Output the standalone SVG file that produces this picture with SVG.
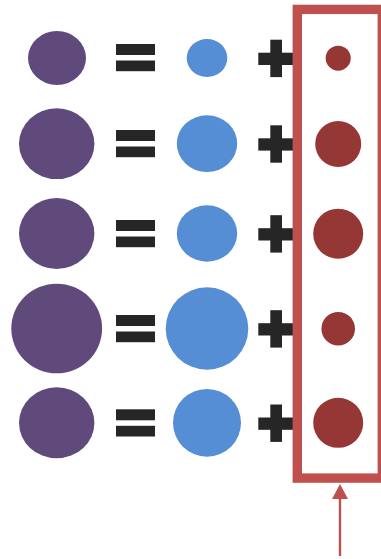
<svg xmlns="http://www.w3.org/2000/svg" width="381" height="559" viewBox="0 0 381 559">
<style>
.p{fill:#604A7B}
.b{fill:#558ED5}
.r{fill:#953735}
.k{fill:#262626}
</style>
<defs>
<g id="eq"><rect x="116" y="-14.5" width="39" height="11"/><rect x="116" y="2" width="39" height="10.7"/></g>
<g id="plus"><rect x="270.3" y="-18.5" width="11.7" height="37.4"/><rect x="258.3" y="-5.5" width="35.7" height="12.3"/></g>
<marker id="ah" markerWidth="15" markerHeight="16" refX="9" refY="8" orient="auto" markerUnits="userSpaceOnUse" viewBox="0 0 15 16"><path d="M0,0 L15,8 L0,16 Z" fill="#C0504D"/></marker>
</defs>
<rect width="381" height="559" fill="#fff"/>
<g id="row1">
<ellipse class="p" cx="57" cy="58" rx="29" ry="27"/>
<use href="#eq" class="k" y="58.5"/>
<ellipse class="b" cx="207" cy="58" rx="20.3" ry="19"/>
<use href="#plus" class="k" y="58.2"/>
<circle class="r" cx="338.2" cy="58.2" r="12.5"/>
</g>
<g id="row2">
<ellipse class="p" cx="56.7" cy="143.7" rx="37.7" ry="35.4"/>
<use href="#eq" class="k" y="144.5"/>
<ellipse class="b" cx="207" cy="143.7" rx="30.2" ry="28.4"/>
<use href="#plus" class="k" y="143.8"/>
<circle class="r" cx="338.2" cy="143.9" r="23"/>
</g>
<g id="row3">
<ellipse class="p" cx="56.7" cy="233.5" rx="37.7" ry="35.5"/>
<use href="#eq" class="k" y="234.5"/>
<ellipse class="b" cx="207" cy="233.5" rx="30.2" ry="28.2"/>
<use href="#plus" class="k" y="233.7"/>
<circle class="r" cx="338.2" cy="233.7" r="25"/>
</g>
<g id="row4">
<ellipse class="p" cx="56.7" cy="328.5" rx="45.4" ry="44.8"/>
<use href="#eq" class="k" y="329.5"/>
<ellipse class="b" cx="207" cy="328.5" rx="41.3" ry="41.2"/>
<use href="#plus" class="k" y="328.7"/>
<circle class="r" cx="338.2" cy="328.7" r="16.8"/>
</g>
<g id="row5">
<ellipse class="p" cx="56.7" cy="422.8" rx="37.7" ry="35.5"/>
<use href="#eq" class="k" y="423.8"/>
<ellipse class="b" cx="207" cy="422.8" rx="34" ry="33.9"/>
<use href="#plus" class="k" y="423"/>
<circle class="r" cx="338.2" cy="422.8" r="25"/>
</g>
<g id="highlight">
<rect x="297.3" y="9.4" width="85" height="468.7" fill="none" stroke="#C0504D" stroke-width="9.4"/>
</g>
<g id="connectors">
<line x1="340" y1="556" x2="340" y2="490" stroke="#C0504D" stroke-width="2.4" marker-end="url(#ah)"/>
</g>
</svg>
